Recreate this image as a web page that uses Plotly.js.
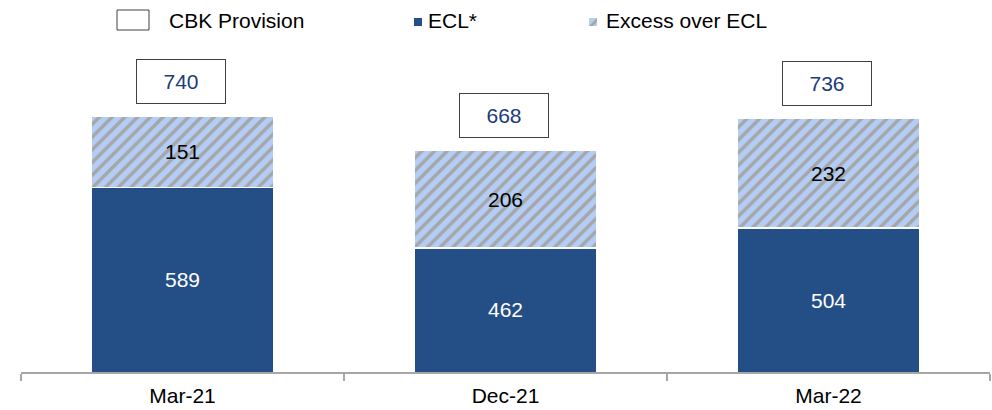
<!DOCTYPE html>
<html>
<head>
<meta charset="utf-8">
<script src="https://cdn.plot.ly/plotly-3.0.1.min.js"></script>
<style>
  html, body { margin: 0; padding: 0; background: #ffffff; }
  #chart { width: 992px; height: 410px; }
</style>
</head>
<body>
<div id="chart"></div>
<script>
// ---- Data ----
const categories = ["Mar-21", "Dec-21", "Mar-22"];
const ecl = [589, 462, 504];
const excess = [151, 206, 232];
const cbkProvision = [740, 668, 736];
const legendLabels = ["CBK Provision", "ECL*", "Excess over ECL"];

// ---- Layout constants ----
const W = 992, H = 410;
const M = { l: 21, r: 2, t: 30, b: 38 };
const plotW = W - M.l - M.r, plotH = H - M.t - M.b;
const yMin = 200, yMax = 922;
const px = x => (x - M.l) / plotW;          // pixel -> paper x
const py = y => (H - M.b - y) / plotH;      // pixel -> paper y

const FONT = "Liberation Sans, Arial, sans-serif";
const FS = 21;
const eclColor = "#244E86";
const excessBg = "#B3CDF7";
const stripe = "#A6A6A6";

const traces = [
  {
    type: "bar",
    name: legendLabels[1],
    x: categories,
    y: ecl,
    marker: { color: eclColor, line: { color: "#ffffff", width: 1.5 } },
    hoverinfo: "skip"
  },
  {
    type: "bar",
    name: legendLabels[2],
    x: categories,
    y: excess,
    text: excess.map(String),
    textposition: "inside",
    insidetextanchor: "middle",
    textangle: 0,
    textfont: { color: "#000000", size: FS, family: FONT },
    marker: {
      color: excessBg,
      line: { color: "#ffffff", width: 1.5 },
      pattern: { shape: "/", bgcolor: excessBg, fgcolor: stripe, size: 9, solidity: 0.38, fillmode: "replace" }
    },
    hoverinfo: "skip"
  }
];

const annotations = [];
categories.forEach((c, i) => {
  // ECL labels centred in visible part of the bar
  annotations.push({
    x: c, y: (yMin + ecl[i]) / 2, xref: "x", yref: "y",
    text: String(ecl[i]), showarrow: false,
    font: { color: "#ffffff", size: FS, family: FONT }
  });
  // CBK provision totals in boxes
  annotations.push({
    x: c, y: cbkProvision[i], xref: "x", yref: "y",
    text: String(cbkProvision[i]), showarrow: false,
    yanchor: "middle", yshift: 35, xshift: -2,
    width: 88, height: 43, borderpad: 0,
    bordercolor: "#404040", borderwidth: 1, bgcolor: "#ffffff",
    font: { color: "#1B3B7A", size: FS, family: FONT }
  });
});

// Legend texts
const legendText = [
  { x: 167, label: legendLabels[0] },
  { x: 426, label: legendLabels[1] },
  { x: 604, label: legendLabels[2] }
];
legendText.forEach(t => {
  annotations.push({
    x: px(t.x), y: py(20), xref: "paper", yref: "paper",
    xanchor: "left", yanchor: "middle", showarrow: false,
    text: t.label, font: { color: "#000000", size: FS, family: FONT }
  });
});

const shapes = [
  { type: "rect", xref: "paper", yref: "paper",
    x0: px(117), x1: px(149), y0: py(30), y1: py(10),
    line: { color: "#404040", width: 1 }, fillcolor: "#ffffff" },
  { type: "rect", xref: "paper", yref: "paper",
    x0: px(414), x1: px(422), y0: py(26), y1: py(18),
    line: { width: 0 }, fillcolor: eclColor },
  { type: "rect", xref: "paper", yref: "paper",
    x0: px(589), x1: px(597), y0: py(26), y1: py(18),
    line: { width: 0 }, fillcolor: excessBg },
  { type: "path", xref: "paper", yref: "paper",
    path: `M ${px(589)} ${py(26)} L ${px(597)} ${py(18)} L ${px(597)} ${py(22)} L ${px(593)} ${py(26)} Z`,
    line: { width: 0 }, fillcolor: stripe }
];

const layout = {
  width: W, height: H,
  margin: M,
  paper_bgcolor: "#ffffff", plot_bgcolor: "#ffffff",
  barmode: "stack",
  bargap: 0.436,
  showlegend: false,
  font: { family: FONT, size: FS, color: "#000000" },
  xaxis: {
    type: "category",
    range: [-0.5, 2.5],
    showline: true, linecolor: "#A6A6A6", linewidth: 1.5,
    ticks: "outside", tickson: "boundaries", ticklen: 7, tickwidth: 1.5, tickcolor: "#A6A6A6",
    ticklabelstandoff: 4,
    tickfont: { size: FS, color: "#000000", family: FONT },
    showgrid: false, zeroline: false, fixedrange: true
  },
  yaxis: {
    range: [yMin, yMax], visible: false, showgrid: false, zeroline: false, fixedrange: true
  },
  annotations: annotations,
  shapes: shapes
};

Plotly.newPlot("chart", traces, layout, { displayModeBar: false, staticPlot: true });
</script>
</body>
</html>
